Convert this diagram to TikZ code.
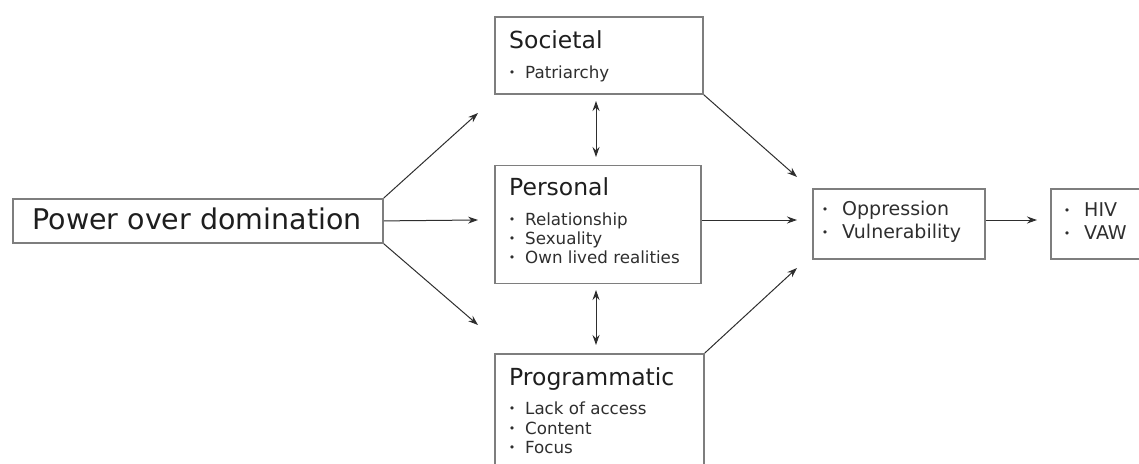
\documentclass[tikz,border=0pt]{standalone}
\usepackage{fontspec}
\setmainfont{DejaVu Sans}
\usetikzlibrary{arrows.meta}
\definecolor{boxgray}{HTML}{7E7E7E}
\definecolor{arrowgray}{HTML}{2E2E2E}
\definecolor{titlecol}{HTML}{1E1E1E}
\definecolor{itemcol}{HTML}{2E2E2E}
\begin{document}
\begin{tikzpicture}[x=1pt,y=-1pt,
  box/.style={draw=boxgray, line width=1.8pt, rectangle, inner sep=0pt, anchor=north west},
  tip/.style={Stealth[length=10pt,width=7pt]},
  arr/.style={draw=arrowgray, line width=1pt, -{Stealth[length=10pt,width=7pt]}},
  dbl/.style={draw=arrowgray, line width=1pt, {Stealth[length=10pt,width=7pt]}-{Stealth[length=10pt,width=7pt]}},
  head/.style={anchor=base west, inner sep=0pt, font=\fontsize{23.5}{28}\selectfont, text=titlecol},
  item/.style={anchor=base west, inner sep=0pt, font=\fontsize{16.7}{20}\selectfont, text=itemcol},
  bigitem/.style={anchor=base west, inner sep=0pt, font=\fontsize{19}{23}\selectfont, text=itemcol},
  dot/.style={anchor=base, inner sep=0pt, font=\fontsize{11}{12}\selectfont, text=itemcol},
]
\useasboundingbox (0,0) rectangle (1139,463);
\clip (0,0) rectangle (1139,463);

% boxes
\node[box, minimum width=370pt, minimum height=44pt] (power) at (12,198) {};
\node[anchor=base, inner sep=0pt, font=\fontsize{28.5}{34}\selectfont, text=titlecol] (powertxt) at (197,229) {Power over domination};

\node[box, minimum width=208pt, minimum height=77pt] (soc) at (494,16) {};
\node[box, minimum width=206pt, minimum height=118pt] (pers) at (494,164.5) {};
\node[box, minimum width=209pt, minimum height=140pt] (prog) at (494,353) {};
\node[box, minimum width=172pt, minimum height=70pt] (opp) at (812,188) {};
\node[box, minimum width=120pt, minimum height=70pt] (hiv) at (1050,188) {};

% societal
\node[head] (socT) at (509,48) {Societal};
\node[dot] (socB1) at (512,76.5) {•};
\node[item] (socI1) at (525,78) {Patriarchy};

% personal
\node[head] (persT) at (509,195) {Personal};
\node[dot] (persB1) at (512,223.5) {•};
\node[item] (persI1) at (525,225) {Relationship};
\node[dot] (persB2) at (512,242.5) {•};
\node[item] (persI2) at (525,244) {Sexuality};
\node[dot] (persB3) at (512,261.5) {•};
\node[item] (persI3) at (525,263) {Own lived realities};

% programmatic
\node[head] (progT) at (509,385) {Programmatic};
\node[dot] (progB1) at (512,412.5) {•};
\node[item] (progI1) at (525,414) {Lack of access};
\node[dot] (progB2) at (512,432.5) {•};
\node[item] (progI2) at (525,434) {Content};
\node[dot] (progB3) at (512,451.5) {•};
\node[item] (progI3) at (525,453) {Focus};

% outcomes
\node[dot] (oppB1) at (825,213) {•};
\node[bigitem] (oppI1) at (842,215) {Oppression};
\node[dot] (oppB2) at (825,236) {•};
\node[bigitem] (oppI2) at (842,238) {Vulnerability};

\node[dot] (hivB1) at (1067,214) {•};
\node[bigitem] (hivI1) at (1084,216) {HIV};
\node[dot] (hivB2) at (1067,237) {•};
\node[bigitem] (hivI2) at (1084,239) {VAW};

% arrow tips
\coordinate (t1) at (478,113);
\coordinate (t2) at (478,220);
\coordinate (t3) at (478,325);
\coordinate (t4) at (797,177);
\coordinate (t5) at (797,220);
\coordinate (t6) at (797,268);
\coordinate (t7) at (1037,220);
\coordinate (d1) at (596,101);
\coordinate (d2) at (596,157);
\coordinate (d3) at (596,290);
\coordinate (d4) at (596,345);

% connectors
\draw[arr] (power.north east) -- (t1);
\draw[arr] (power.east) -- (t2);
\draw[arr] (power.south east) -- (t3);
\draw[arr] (soc.south east) -- (t4);
\draw[arr] (pers.east |- t5) -- (t5);
\draw[arr] (prog.north east) -- (t6);
\draw[arr] (opp.east |- t7) -- (t7);
\draw[dbl] (d1) -- (d2);
\draw[dbl] (d3) -- (d4);
\end{tikzpicture}
\end{document}
